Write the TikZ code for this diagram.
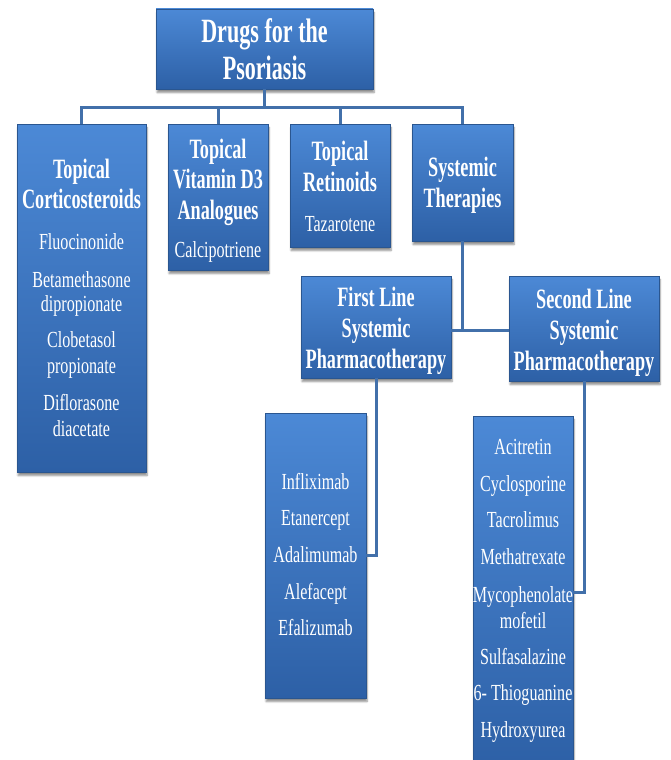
\documentclass[tikz,border=0pt]{standalone}
\usepackage{fontspec}
\setmainfont{Liberation Serif}
\newfontfamily\hdfont{Liberation Serif}[FakeStretch=0.65]
\newfontfamily\itfont{Liberation Serif}[FakeStretch=0.7]
\usetikzlibrary{shadows.blur}
\definecolor{boxtop}{HTML}{4C89D6}
\definecolor{boxbot}{HTML}{2D60A6}
\definecolor{boxedge}{HTML}{2A5690}
\definecolor{conncol}{HTML}{4270AA}
\tikzset{
  box/.style={rectangle, inner sep=0pt, top color=boxtop, bottom color=boxbot, draw=boxedge, line width=0.6pt,
    blur shadow={shadow xshift=1pt, shadow yshift=-3.5pt, shadow blur steps=6, shadow opacity=45}},
  conn/.style={draw=conncol, line width=3pt},
  ttl/.style={anchor=base, text=white, inner sep=0pt, font=\hdfont\fontsize{34}{36}\selectfont\bfseries},
  hd/.style={anchor=base, text=white, inner sep=0pt, font=\hdfont\fontsize{28}{30}\selectfont\bfseries},
  it/.style={anchor=base, text=white, inner sep=0pt, font=\itfont\fontsize{23}{25}\selectfont},
}
\newcommand\boxat[5]{\node[box, minimum width={(#4-#2)*1pt}, minimum height={(#5-#3)*1pt}] (#1) at ({(#2+#4)/2},{(#3+#5)/2}) {};}
\begin{document}
\begin{tikzpicture}[x=1pt,y=-1pt]
\useasboundingbox (0,0) rectangle (670,760);
\coordinate (bus) at (0,107);
\coordinate (j) at (0,330);
% boxes
\boxat{title}{156}{9}{373}{89}
\boxat{b1}{17}{124}{146}{472}
\boxat{b2}{168}{124}{268}{270}
\boxat{b3}{290}{124}{390}{247}
\boxat{b4}{412}{124}{513}{241}
\boxat{f1}{301}{276}{451}{378}
\boxat{f2}{509}{276}{659}{381}
\boxat{c1}{265}{413}{366}{698}
\boxat{c2}{473}{416}{573}{768}
% connectors
\draw[conn] (title.south) -- (title.south |- bus);
\draw[conn] (b1.north) -- (b1.north |- bus) -- (b4.north |- bus) -- (b4.north);
\draw[conn] (b2.north) -- (b2.north |- bus);
\draw[conn] (b3.north) -- (b3.north |- bus);
\draw[conn] (b4.south) -- (b4.south |- j);
\draw[conn] (f1.east |- j) -- (f2.west |- j);
\draw[conn] (f1.south) |- (c1.east);
\draw[conn] (f2.south) |- (c2.east);
% title text
\node[ttl] (tt1) at (264.5,43) {Drugs for the};
\node[ttl] (tt2) at (264.5,80) {Psoriasis};
% b1
\node[hd] (h1a) at (81.5,178) {Topical};
\node[hd] (h1b) at (81.5,208) {Corticosteroids};
\node[it] (i1a) at (81.5,249) {Fluocinonide};
\node[it] (i1b) at (81.5,287) {Betamethasone};
\node[it] (i1c) at (81.5,311) {dipropionate};
\node[it] (i1d) at (81.5,347) {Clobetasol};
\node[it] (i1e) at (81.5,373) {propionate};
\node[it] (i1f) at (81.5,410) {Diflorasone};
\node[it] (i1g) at (81.5,436) {diacetate};
% b2
\node[hd] (h2a) at (218,158) {Topical};
\node[hd] (h2b) at (218,188) {Vitamin D3};
\node[hd] (h2c) at (218,219) {Analogues};
\node[it] (i2a) at (218,257) {Calcipotriene};
% b3
\node[hd] (h3a) at (340,160) {Topical};
\node[hd] (h3b) at (340,191) {Retinoids};
\node[it] (i3a) at (340,231) {Tazarotene};
% b4
\node[hd] (h4a) at (462.5,176) {Systemic};
\node[hd] (h4b) at (462.5,207) {Therapies};
% f1
\node[hd] (h5a) at (376,306) {First Line};
\node[hd] (h5b) at (376,337) {Systemic};
\node[hd] (h5c) at (376,368) {Pharmacotherapy};
% f2
\node[hd] (h6a) at (584,308) {Second Line};
\node[hd] (h6b) at (584,339) {Systemic};
\node[hd] (h6c) at (584,370) {Pharmacotherapy};
% c1
\node[it] (i7a) at (315.5,489) {Infliximab};
\node[it] (i7b) at (315.5,525) {Etanercept};
\node[it] (i7c) at (315.5,562) {Adalimumab};
\node[it] (i7d) at (315.5,599) {Alefacept};
\node[it] (i7e) at (315.5,635) {Efalizumab};
% c2
\node[it] (i8a) at (523,454) {Acitretin};
\node[it] (i8b) at (523,491) {Cyclosporine};
\node[it] (i8c) at (523,527) {Tacrolimus};
\node[it] (i8d) at (523,564) {Methatrexate};
\node[it] (i8e) at (523,602) {Mycophenolate};
\node[it] (i8f) at (523,628) {mofetil};
\node[it] (i8g) at (523,664) {Sulfasalazine};
\node[it] (i8h) at (523,700) {6- Thioguanine};
\node[it] (i8i) at (523,737) {Hydroxyurea};
\end{tikzpicture}
\end{document}
